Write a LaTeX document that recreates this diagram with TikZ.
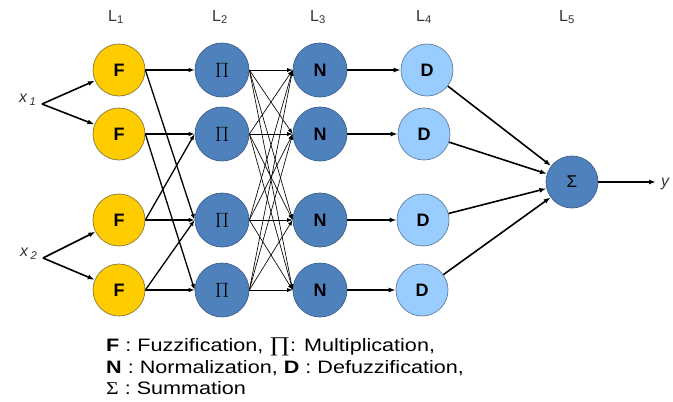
\documentclass[tikz,border=0pt]{standalone}
\usepackage{fontspec}
\setmainfont{Liberation Sans}
\newfontfamily\widefont[FakeStretch=1.2]{Liberation Sans}
\newfontfamily\symfont{Liberation Serif}
\newfontfamily\widesym[FakeStretch=1.2]{Liberation Serif}
\usetikzlibrary{arrows.meta}

\definecolor{fzfill}{HTML}{FFCC00}
\definecolor{fzline}{HTML}{8C7A3A}
\definecolor{midblue}{HTML}{4F81BD}
\definecolor{midline}{HTML}{3A5F8C}
\definecolor{paleblue}{HTML}{99CCFF}
\definecolor{paleline}{HTML}{5F7F9F}
\definecolor{labelgray}{HTML}{333333}

\begin{document}
\begin{tikzpicture}[x=1pt,y=-1pt,
  unit/.style={circle, inner sep=0pt, line width=0.7pt, font=\bfseries\fontsize{18}{18}\selectfont},
  fuzz/.style={unit, minimum size=52pt, fill=fzfill, draw=fzline},
  prodn/.style={unit, minimum size=54pt, fill=midblue, draw=midline, font=\symfont\fontsize{22}{22}\selectfont},
  norm/.style={unit, minimum size=54pt, fill=midblue, draw=midline},
  defz/.style={unit, minimum size=52pt, fill=paleblue, draw=paleline},
  summ/.style={unit, minimum size=52pt, fill=midblue, draw=midline, font=\fontsize{17}{17}\selectfont},
  layer/.style={font=\fontsize{16}{16}\selectfont, text=labelgray},
  inlbl/.style={font=\itshape\fontsize{16}{16}\selectfont, text=labelgray},
  legend/.style={anchor=base west, inner sep=0pt, font=\widefont\fontsize{18}{18}\selectfont},
  heavy/.style={-{Latex[length=7pt,width=5pt]}, line width=1.6pt},
  medium/.style={-{Latex[length=6pt,width=4.5pt]}, line width=1.3pt},
  light/.style={-{Latex[length=5.5pt,width=4pt]}, line width=0.65pt}
]
\useasboundingbox (0,0) rectangle (673,402);

% layer titles
\node[layer] (t1) at (116,17) {L\textsubscript{1}};
\node[layer] (t2) at (220,17) {L\textsubscript{2}};
\node[layer] (t3) at (318,17) {L\textsubscript{3}};
\node[layer] (t4) at (424,17) {L\textsubscript{4}};
\node[layer] (t5) at (567,17) {L\textsubscript{5}};

% inputs
\coordinate (x1) at (42,104);
\coordinate (x2) at (43,258);
\node[inlbl, anchor=east] (x1t) at (40,100) {x\,\textsubscript{1}};
\node[inlbl, anchor=east] (x2t) at (41,254) {x\,\textsubscript{2}};

% layer 1: fuzzification
\node[fuzz] (F1) at (119,70) {F};
\node[fuzz] (F2) at (119,134) {F};
\node[fuzz] (F3) at (119,220) {F};
\node[fuzz] (F4) at (119,290) {F};

% layer 2: multiplication
\node[prodn] (P1) at (222,70) {$\Pi$};
\node[prodn] (P2) at (222,134) {$\Pi$};
\node[prodn] (P3) at (222,220) {$\Pi$};
\node[prodn] (P4) at (222,290) {$\Pi$};

% layer 3: normalization
\node[norm] (N1) at (320,70) {N};
\node[norm] (N2) at (320,134) {N};
\node[norm] (N3) at (320,220) {N};
\node[norm] (N4) at (320,290) {N};

% layer 4: defuzzification
\node[defz] (D1) at (427,70) {D};
\node[defz] (D2) at (424,134) {D};
\node[defz] (D3) at (423,220) {D};
\node[defz] (D4) at (422,290) {D};

% layer 5: summation
\node[summ] (S) at (572,182) {Σ};
\coordinate (yout) at (656,182);
\node[inlbl, anchor=west, inner sep=0pt] (yt) at (661,184) {y};

% input fan-out
\draw[heavy] (x1) -- (F1);
\draw[heavy] (x1) -- (F2);
\draw[heavy] (x2) -- (F3);
\draw[heavy] (x2) -- (F4);

% membership outputs into the rule layer
\foreach \a/\b in {F1/P1, F1/P3, F2/P2, F2/P4, F3/P2, F3/P3, F4/P3, F4/P4}
  \draw[medium] (\a.east) -- (\b.west);

% rule strengths into normalization (fully connected)
\foreach \a in {P1,P2,P3,P4}
  \foreach \b in {N1,N2,N3,N4}
    \draw[light] (\a.east) -- (\b.west);

% normalization to defuzzification
\foreach \i in {1,2,3,4}
  \draw[heavy] (N\i.east) -- (D\i.west);

% defuzzified values into the sum
\foreach \i in {1,2,3,4}
  \draw[heavy] (D\i) -- (S);
\draw[heavy] (S.east) -- (yout);

% legend
\node[legend] (lg1) at (106,351) {\textbf{F} : Fuzzification, {\widesym\fontsize{21}{21}\selectfont ∏}: Multiplication,};
\node[legend] (lg2) at (106,373) {\textbf{N} : Normalization, \textbf{D} : Defuzzification,};
\node[legend] (lg3) at (106,394) {{\widesym Σ} : Summation};
\end{tikzpicture}
\end{document}
